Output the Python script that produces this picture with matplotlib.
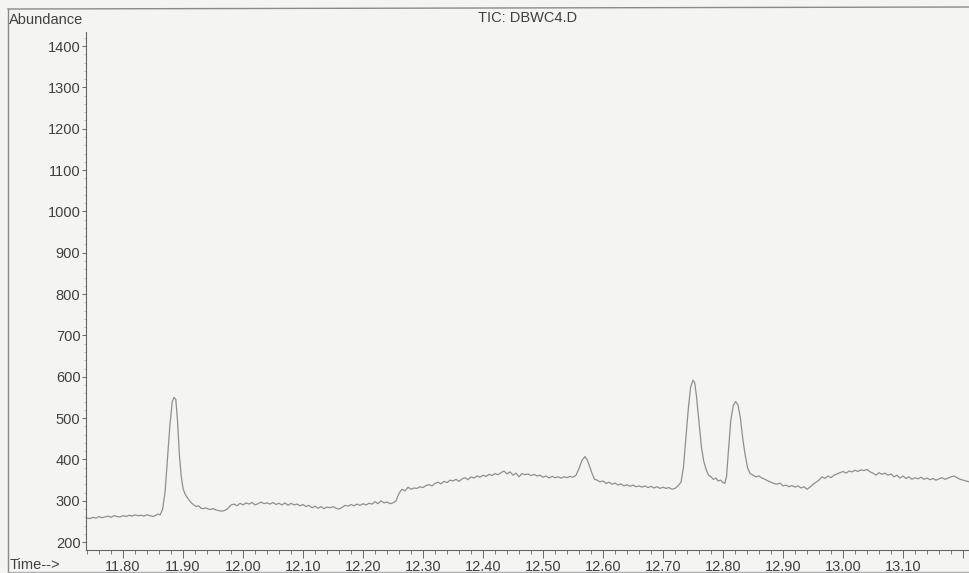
import numpy as np
import matplotlib.pyplot as plt
from matplotlib.ticker import MultipleLocator, FuncFormatter
from matplotlib.lines import Line2D

# TIC trace (time in min, abundance)
time = [11.738, 11.745, 11.750, 11.755, 11.760, 11.765, 11.770, 11.775, 11.780, 11.785,
        11.790, 11.795, 11.800, 11.805, 11.810, 11.815, 11.820, 11.825, 11.830, 11.835,
        11.840, 11.845, 11.850, 11.855, 11.858, 11.862, 11.866, 11.870, 11.874, 11.878,
        11.882, 11.885, 11.888, 11.891, 11.894, 11.897, 11.900, 11.903, 11.906, 11.910,
        11.914, 11.918, 11.922, 11.926, 11.930, 11.934, 11.938, 11.942, 11.946, 11.950,
        11.955, 11.960, 11.965, 11.970, 11.975, 11.980, 11.985, 11.990, 11.995, 12.000,
        12.005, 12.010, 12.015, 12.020, 12.025, 12.030, 12.035, 12.040, 12.045, 12.050,
        12.055, 12.060, 12.065, 12.070, 12.075, 12.080, 12.085, 12.090, 12.095, 12.100,
        12.105, 12.110, 12.115, 12.120, 12.125, 12.130, 12.135, 12.140, 12.145, 12.150,
        12.155, 12.160, 12.165, 12.170, 12.175, 12.180, 12.185, 12.190, 12.195, 12.200,
        12.205, 12.210, 12.215, 12.220, 12.225, 12.230, 12.235, 12.240, 12.245, 12.250,
        12.255, 12.260, 12.265, 12.270, 12.275, 12.280, 12.285, 12.290, 12.295, 12.300,
        12.305, 12.310, 12.315, 12.320, 12.325, 12.330, 12.335, 12.340, 12.345, 12.350,
        12.355, 12.360, 12.365, 12.370, 12.375, 12.380, 12.385, 12.390, 12.395, 12.400,
        12.405, 12.410, 12.415, 12.420, 12.425, 12.430, 12.435, 12.440, 12.445, 12.450,
        12.455, 12.460, 12.465, 12.470, 12.475, 12.480, 12.485, 12.490, 12.495, 12.500,
        12.505, 12.510, 12.515, 12.520, 12.525, 12.530, 12.535, 12.540, 12.545, 12.550,
        12.555, 12.560, 12.565, 12.570, 12.574, 12.578, 12.582, 12.586, 12.590, 12.595,
        12.600, 12.605, 12.610, 12.615, 12.620, 12.625, 12.630, 12.635, 12.640, 12.645,
        12.650, 12.655, 12.660, 12.665, 12.670, 12.675, 12.680, 12.685, 12.690, 12.695,
        12.700, 12.705, 12.710, 12.715, 12.720, 12.725, 12.730, 12.734, 12.738, 12.742,
        12.746, 12.750, 12.753, 12.756, 12.760, 12.764, 12.768, 12.772, 12.776, 12.780,
        12.784, 12.788, 12.792, 12.796, 12.800, 12.803, 12.806, 12.809, 12.813, 12.817,
        12.821, 12.825, 12.829, 12.833, 12.837, 12.841, 12.845, 12.850, 12.855, 12.860,
        12.865, 12.870, 12.875, 12.880, 12.885, 12.890, 12.895, 12.900, 12.905, 12.910,
        12.915, 12.920, 12.925, 12.930, 12.935, 12.940, 12.945, 12.950, 12.955, 12.960,
        12.965, 12.970, 12.975, 12.980, 12.985, 12.990, 12.995, 13.000, 13.005, 13.010,
        13.015, 13.020, 13.025, 13.030, 13.035, 13.040, 13.045, 13.050, 13.055, 13.060,
        13.065, 13.070, 13.075, 13.080, 13.085, 13.090, 13.095, 13.100, 13.105, 13.110,
        13.115, 13.120, 13.125, 13.130, 13.135, 13.140, 13.145, 13.150, 13.155, 13.160,
        13.165, 13.170, 13.175, 13.180, 13.185, 13.190, 13.195, 13.200, 13.205, 13.210]

abundance = [259, 257, 260, 258, 262, 259, 261, 263, 260, 264,
             262, 261, 264, 262, 265, 263, 266, 264, 265, 263,
             266, 264, 262, 265, 268, 266, 280, 320, 400, 480,
             540, 550, 545, 490, 410, 360, 330, 318, 310, 302,
             295, 290, 286, 288, 282, 281, 283, 280, 279, 281,
             278, 276, 275, 277, 282, 290, 292, 288, 294, 290,
             295, 292, 296, 290, 293, 297, 293, 295, 292, 296,
             291, 294, 290, 295, 289, 294, 290, 292, 288, 291,
             286, 289, 283, 287, 282, 286, 281, 285, 283, 286,
             282, 280, 284, 289, 287, 291, 288, 292, 289, 293,
             290, 294, 292, 298, 293, 300, 295, 297, 293, 295,
             300, 318, 328, 324, 333, 328, 331, 330, 334, 332,
             337, 339, 336, 342, 345, 341, 347, 344, 350, 348,
             352, 347, 353, 356, 351, 358, 355, 360, 357, 362,
             359, 364, 361, 366, 363, 368, 372, 365, 370, 362,
             367, 358, 366, 363, 365, 361, 364, 360, 362, 357,
             360, 355, 359, 356, 358, 355, 358, 356, 359, 357,
             362, 378, 398, 407, 398, 382, 365, 352, 350, 346,
             348, 342, 345, 340, 343, 338, 341, 336, 339, 335,
             338, 334, 336, 333, 336, 332, 335, 331, 334, 330,
             333, 330, 332, 328, 330, 336, 345, 380, 450, 520,
             575, 592, 585, 550, 490, 430, 395, 375, 362, 358,
             352, 355, 348, 350, 344, 342, 360, 420, 495, 530,
             540, 532, 500, 450, 410, 380, 366, 362, 358, 360,
             355, 352, 348, 345, 342, 340, 343, 336, 338, 334,
             337, 333, 336, 331, 334, 328, 333, 340, 345, 350,
             358, 354, 360, 356, 362, 365, 368, 371, 367, 372,
             370, 374, 371, 375, 373, 376, 370, 367, 362, 368,
             364, 367, 362, 365, 358, 362, 355, 360, 354, 358,
             352, 356, 353, 357, 352, 355, 351, 354, 350, 353,
             356, 352, 355, 358, 360, 356, 352, 350, 348, 346]

y_ticks = list(range(200, 1500, 100))
title_text = "TIC: DBWC4.D"
y_label = "Abundance"
x_label = "Time-->"

paper = "#f4f4f2"
ink = "#666666"
text_col = "#404040"
trace_col = "#8f8f8f"

plt.rcParams['font.family'] = ['Liberation Sans', 'DejaVu Sans']

W, H = 969, 573
fig = plt.figure(figsize=(W / 100, H / 100), dpi=100, facecolor=paper)
ax = fig.add_axes([86 / W, 1 - 550 / H, 1 - 86 / W, (550 - 32) / H])
ax.set_facecolor(paper)

ax.plot(time, abundance, color=trace_col, lw=0.9)

ax.set_xlim(11.7383, 13.21)
ax.set_ylim(181, 1434)

ax.xaxis.set_major_locator(MultipleLocator(0.1))
ax.xaxis.set_minor_locator(MultipleLocator(0.02))
# the last major tick (13.20) sits at the page edge and has no label
ax.xaxis.set_major_formatter(FuncFormatter(lambda v, p: "" if v > 13.15 else f"{v:.2f}"))
ax.set_yticks(y_ticks)
ax.yaxis.set_minor_locator(MultipleLocator(20))
ax.yaxis.set_major_formatter(FuncFormatter(lambda v, p: f"{v:.0f}"))

ax.tick_params(axis="x", which="major", length=6, width=0.7, color=ink,
               labelcolor=text_col, labelsize=10.5, pad=1.5)
ax.tick_params(axis="x", which="minor", length=3, width=0.6, color=ink)
ax.tick_params(axis="y", which="major", length=3, width=0.7, color=ink,
               labelcolor=text_col, labelsize=10.5, pad=1)
ax.tick_params(axis="y", which="minor", length=1.5, width=0.5, color="#aaaaaa")

for side in ["top", "right"]:
    ax.spines[side].set_visible(False)
for side in ["left", "bottom"]:
    ax.spines[side].set_color(ink)
    ax.spines[side].set_linewidth(0.8)

# outer frame of the printout
fig.add_artist(Line2D([8 / W, 8 / W], [0, 1 - 9 / H], transform=fig.transFigure,
                      color="#8a8a8a", lw=1))
fig.add_artist(Line2D([8 / W, 1], [1 - 9 / H, 1 - 7 / H], transform=fig.transFigure,
                      color="#8a8a8a", lw=1))
fig.add_artist(Line2D([8 / W, 1], [1 - 572 / H, 1 - 572 / H], transform=fig.transFigure,
                      color="#b0b0b0", lw=1))

fig.text(9 / W, 1 - 20 / H, y_label, fontsize=10.5, color=text_col, va="center", ha="left")
fig.text(528 / W, 1 - 18 / H, title_text, fontsize=10.5, color=text_col, va="center", ha="center")
fig.text(10 / W, 1 - 565 / H, x_label, fontsize=10.5, color=text_col, va="center", ha="left")

fig.savefig("out.png", dpi=100, facecolor=paper)
